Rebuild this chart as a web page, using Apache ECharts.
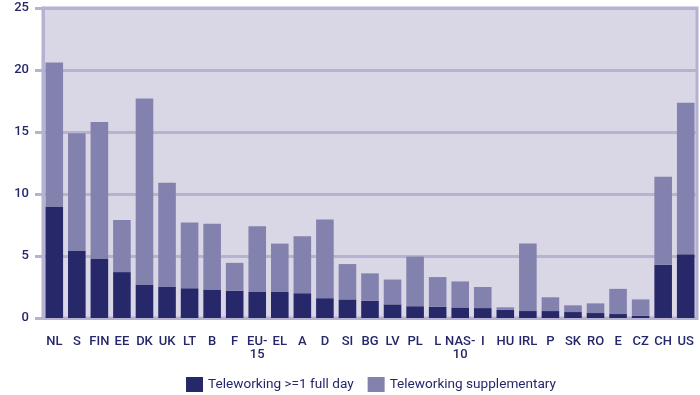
<!DOCTYPE html>
<html><head><meta charset="utf-8">
<script src="https://cdn.jsdelivr.net/npm/echarts@6/dist/echarts.min.js"></script>
<style>html,body{margin:0;padding:0;background:#fff}#c{width:700px;height:395px}</style>
</head><body><div id="c"></div>
<script>
const categories = ['NL','S','FIN','EE','DK','UK','LT','B','F','EU-\n15','EL','A','D','SI','BG','LV','PL','L','NAS-\n10','I','HU','IRL','P','SK','RO','E','CZ','CH','US'];
const fullDay = [9.0,5.4,4.8,3.7,2.7,2.5,2.4,2.3,2.2,2.1,2.1,2.0,1.6,1.5,1.4,1.1,0.95,0.9,0.85,0.8,0.67,0.56,0.56,0.48,0.4,0.32,0.19,4.3,5.15];
const totals = [20.6,14.9,15.8,7.9,17.7,10.9,7.7,7.6,4.45,7.4,6.0,6.6,7.95,4.35,3.6,3.1,4.95,3.3,2.95,2.5,0.86,6.0,1.67,1.02,1.18,2.35,1.5,11.4,17.35];
const supplementary = totals.map((t,i)=>+(t-fullDay[i]).toFixed(2));
const yTicks = [0,5,10,15,20,25];
const seriesNames = ['Teleworking >=1 full day','Teleworking supplementary'];

const chart = echarts.init(document.getElementById('c'), null, {renderer:'canvas'});
const txt = '#25276a';
const gridC = '#b6b2d2';
chart.setOption({
  animation:false,
  textStyle:{fontFamily:'Roboto'},
  grid:{left:43,right:3,top:8,bottom:77,show:true,backgroundColor:'#d9d7e6',borderColor:gridC,borderWidth:3},
  legend:{top:372,left:181,itemWidth:17,itemHeight:15,itemGap:14,icon:'rect',
    textStyle:{color:txt,fontSize:13.6,fontFamily:'Roboto'},data:seriesNames},
  xAxis:{type:'category',data:categories,
    axisLine:{show:true,lineStyle:{color:gridC,width:3}},
    axisTick:{show:false},
    axisLabel:{color:txt,fontSize:13,fontWeight:500,margin:17,interval:0,lineHeight:13}},
  yAxis:{type:'value',min:0,max:25,interval:5,
    axisLine:{show:true,lineStyle:{color:gridC,width:3}},
    axisTick:{show:true,length:8,lineStyle:{color:gridC,width:3}},
    splitLine:{lineStyle:{color:gridC,width:3}},
    axisLabel:{color:txt,fontSize:13,fontWeight:500,margin:14,formatter:v=>yTicks.includes(v)?String(v):''}},
  series:[
    {name:seriesNames[0],type:'bar',stack:'t',data:fullDay,barCategoryGap:'22%',itemStyle:{color:'#26286a'}},
    {name:seriesNames[1],type:'bar',stack:'t',data:supplementary,itemStyle:{color:'#8381ae'}}
  ]
});
</script></body></html>
